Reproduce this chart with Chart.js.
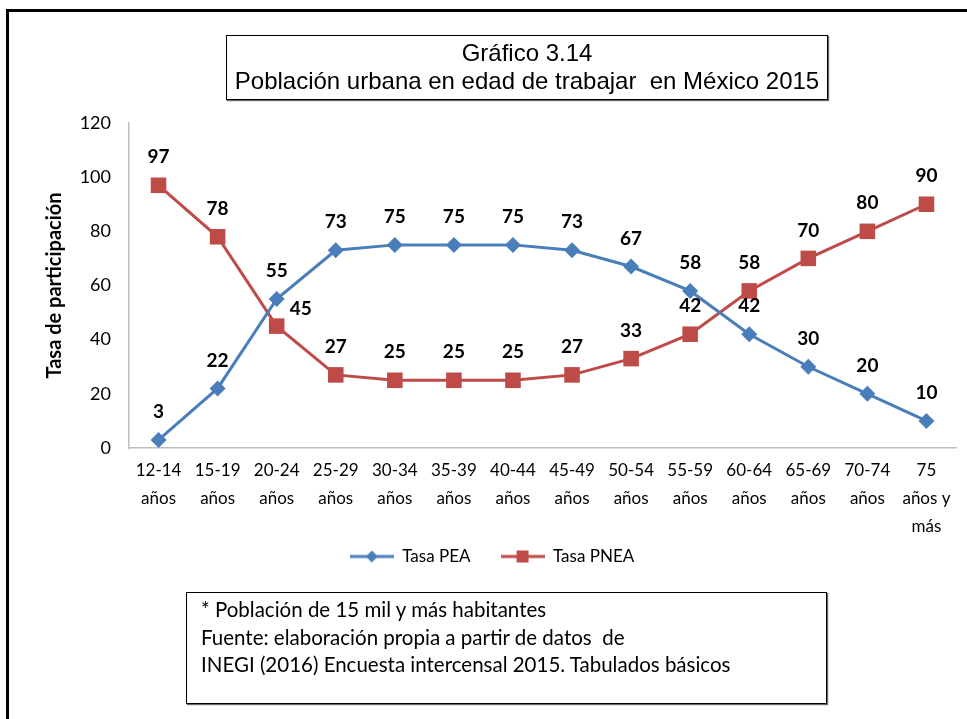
<!DOCTYPE html>
<html>
<head>
<meta charset="utf-8">
<script src="https://cdn.jsdelivr.net/npm/chart.js@4.4.1/dist/chart.umd.min.js"></script>
<style>
  html, body { margin: 0; padding: 0; background: #fff; }
  #wrap { position: relative; width: 967px; height: 719px; overflow: hidden; }
  #frame { position: absolute; left: 6px; top: 9px; width: 980px; height: 740px; border-left: 3px solid #000; border-top: 3px solid #000; }
  #c { position: absolute; left: 0; top: 0; }
  #title { position: absolute; left: 226px; top: 35px; width: 600px; height: 60px; border: 1.5px solid #000; box-shadow: 1px 1px 1px #666;
    font-family: "Liberation Sans Narrow", "Liberation Sans", Arial, sans-serif; font-size: 24px; line-height: 28px; text-align: center; padding-top: 3px; box-sizing: content-box; }
  #note { position: absolute; left: 186px; top: 592px; width: 641px; height: 112px; border: 1.5px solid #000; box-shadow: 1px 1px 1px #666;
    font-family: Lato, "Open Sans", sans-serif; font-size: 20.5px; line-height: 27.5px; padding-left: 14px; padding-top: 3px; box-sizing: border-box; }
</style>
</head>
<body>
<div id="wrap">
  <div id="frame"></div>
  <canvas id="c" width="967" height="719"></canvas>
  <div id="title">Gráfico 3.14<br>Población urbana en edad de trabajar&nbsp; en México 2015</div>
  <div id="note">* Población de 15 mil y más habitantes<br>Fuente: elaboración propia a partir de datos&nbsp; de<br>INEGI (2016) Encuesta intercensal 2015. Tabulados básicos</div>
</div>
<script>
const categories = [
  ["12-14", "años"], ["15-19", "años"], ["20-24", "años"], ["25-29", "años"],
  ["30-34", "años"], ["35-39", "años"], ["40-44", "años"], ["45-49", "años"],
  ["50-54", "años"], ["55-59", "años"], ["60-64", "años"], ["65-69", "años"],
  ["70-74", "años"], ["75", "años y", "más"]
];
const tasaPEA  = [3, 22, 55, 73, 75, 75, 75, 73, 67, 58, 42, 30, 20, 10];
const tasaPNEA = [97, 78, 45, 27, 25, 25, 25, 27, 33, 42, 58, 70, 80, 90];
const yTicks = [0, 20, 40, 60, 80, 100, 120];

const BLUE = '#4A7EBB';
const RED = '#BE4B48';
const TICK_FONT = 'Lato, "Open Sans", sans-serif';

function legendIcon(color, style) {
  const cv = document.createElement('canvas');
  cv.width = 44; cv.height = 16;
  const g = cv.getContext('2d');
  g.strokeStyle = color; g.lineWidth = 3;
  g.beginPath(); g.moveTo(0, 8); g.lineTo(44, 8); g.stroke();
  g.fillStyle = color;
  if (style === 'diamond') {
    g.beginPath(); g.moveTo(22, 2); g.lineTo(28, 8); g.lineTo(22, 14); g.lineTo(16, 8); g.closePath(); g.fill();
  } else {
    g.fillRect(16, 2, 12, 12);
  }
  return cv;
}
const icons = [legendIcon(BLUE, 'diamond'), legendIcon(RED, 'square')];

const dataLabels = {
  id: 'dataLabels',
  afterDatasetsDraw(chart) {
    const ctx = chart.ctx;
    ctx.save();
    ctx.font = 'bold 19px ' + TICK_FONT;
    ctx.fillStyle = '#000';
    ctx.textAlign = 'center';
    ctx.textBaseline = 'middle';
    chart.data.datasets.forEach((ds, di) => {
      const meta = chart.getDatasetMeta(di);
      meta.data.forEach((pt, i) => {
        let dx = 0, dy = -28;
        if (di === 1 && i === 2) { dx = 24; dy = -17; }
        ctx.fillText(String(ds.data[i]), pt.x + dx, pt.y + dy);
      });
    });
    ctx.restore();
  }
};

const legendShift = {
  id: 'legendShift',
  afterLayout(chart) {
    if (chart.legend) { chart.legend.top -= 19; chart.legend.bottom -= 19; }
  }
};

new Chart(document.getElementById('c'), {
  type: 'line',
  data: {
    labels: categories,
    datasets: [
      { label: 'Tasa PEA', data: tasaPEA, borderColor: BLUE, backgroundColor: BLUE, borderWidth: 3,
        pointStyle: 'rectRot', pointRadius: 8, pointHoverRadius: 8, pointBorderWidth: 0, tension: 0 },
      { label: 'Tasa PNEA', data: tasaPNEA, borderColor: RED, backgroundColor: RED, borderWidth: 3,
        pointStyle: 'rect', pointRadius: 11, pointHoverRadius: 11, pointBorderWidth: 0, tension: 0 }
    ]
  },
  options: {
    responsive: false,
    animation: false,
    events: [],
    layout: { padding: { top: 123, right: 11, bottom: 125, left: 28 } },
    plugins: {
      title: { display: false },
      tooltip: { enabled: false },
      legend: {
        display: true,
        position: 'bottom',
        labels: {
          usePointStyle: true,
          pointStyleWidth: 44,
          padding: 30,
          color: '#000',
          font: { family: TICK_FONT, size: 17 },
          generateLabels(chart) {
            return chart.data.datasets.map((ds, i) => ({
              text: ds.label, pointStyle: icons[i], fillStyle: ds.borderColor,
              strokeStyle: ds.borderColor, lineWidth: 0, hidden: false, datasetIndex: i, fontColor: '#000'
            }));
          }
        }
      }
    },
    scales: {
      x: {
        offset: true,
        grid: { display: true, drawOnChartArea: false, drawTicks: false, color: 'transparent', offset: true },
        border: { display: true, color: '#BFBFBF', width: 1.5 },
        ticks: { autoSkip: false, maxRotation: 0, minRotation: 0, padding: 8, color: '#000',
          font: { family: TICK_FONT, size: 17, lineHeight: 1.65 } },
        afterFit(s) { s.height = 89; }
      },
      y: {
        min: 0, max: 120,
        afterBuildTicks(s) { s.ticks = yTicks.map(v => ({ value: v })); },
        grid: { display: true, drawOnChartArea: false, drawTicks: false, color: 'transparent' },
        border: { display: true, color: '#BFBFBF', width: 1.5 },
        ticks: { padding: 18, color: '#000', font: { family: TICK_FONT, size: 18 } },
        title: { display: true, text: 'Tasa de participación', color: '#000',
          font: { family: TICK_FONT, size: 20, weight: 'bold' }, padding: { top: 15, bottom: 0 } },
        afterFit(s) { s.width = 101; }
      }
    }
  },
  plugins: [dataLabels, legendShift]
});
</script>
</body>
</html>
